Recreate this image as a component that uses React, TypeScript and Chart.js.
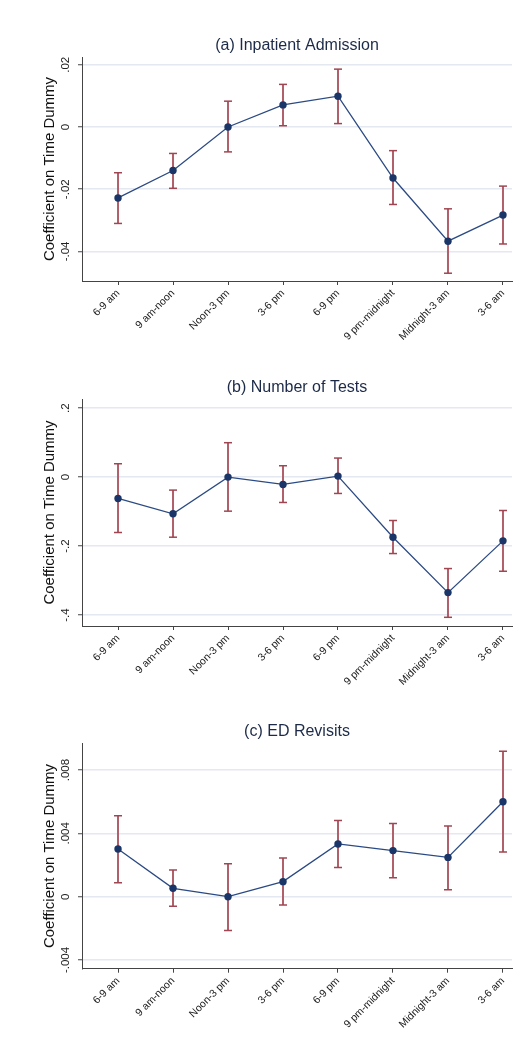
import React, { useEffect, useRef } from "react";
import { Chart, registerables } from "chart.js";

Chart.register(...registerables);

const timeSlots = ["6-9 am", "9 am-noon", "Noon-3 pm", "3-6 pm", "6-9 pm", "9 pm-midnight", "Midnight-3 am", "3-6 am"];

const admissionCoef = [-0.0228, -0.014, 0.0, 0.0071, 0.0099, -0.0164, -0.0367, -0.0283];
const admissionLow = [-0.031, -0.0197, -0.008, 0.0004, 0.0011, -0.0249, -0.047, -0.0376];
const admissionHigh = [-0.0147, -0.0085, 0.0083, 0.0137, 0.0186, -0.0076, -0.0263, -0.019];
const admissionTicks = [-0.04, -0.02, 0, 0.02];
const admissionTickLabels = ["-.04", "-.02", "0", ".02"];

const testsCoef = [-0.0619, -0.1064, 0.0, -0.0213, 0.0029, -0.1742, -0.3348, -0.1848];
const testsLow = [-0.1606, -0.1742, -0.0987, -0.0735, -0.0474, -0.2216, -0.4064, -0.2729];
const testsHigh = [0.0387, -0.0377, 0.0997, 0.0329, 0.0552, -0.1258, -0.2651, -0.0968];
const testsTicks = [-0.4, -0.2, 0, 0.2];
const testsTickLabels = ["-.4", "-.2", "0", ".2"];

const revisitCoef = [0.00301, 0.00053, 0.0, 0.00095, 0.00333, 0.00291, 0.00248, 0.006];
const revisitLow = [0.00088, -0.00061, -0.00213, -0.00053, 0.00185, 0.0012, 0.00044, 0.00282];
const revisitHigh = [0.00512, 0.00168, 0.00208, 0.00244, 0.00482, 0.00463, 0.00446, 0.00918];
const revisitTicks = [-0.004, 0, 0.004, 0.008];
const revisitTickLabels = ["-.004", "0", ".004", ".008"];

const FONT = "'Liberation Sans', Arial, Helvetica, sans-serif";

type PanelProps = {
  title: string;
  coef: number[];
  low: number[];
  high: number[];
  ticks: number[];
  tickLabels: string[];
  yMin: number;
  yMax: number;
  top: number;
  height: number;
  plotTop: number;
  plotBottom: number;
  titleCenter: number;
  tickPad: number;
};

function Panel(p: PanelProps) {
  const ref = useRef<HTMLCanvasElement | null>(null);
  useEffect(() => {
    if (!ref.current) return;
    const titleSize = 16;
    const titleLine = titleSize * 1.2;
    const titlePadTop = p.titleCenter - titleLine / 2;
    const titlePadBottom = p.plotTop - (titlePadTop + titleLine);
    const ciData: { x: number; y: number | null }[] = [];
    timeSlots.forEach((_, i) => {
      ciData.push({ x: i + 1, y: p.low[i] });
      ciData.push({ x: i + 1, y: p.high[i] });
      ciData.push({ x: i + 1, y: null });
    });
    const chart = new Chart(ref.current, {
      type: "line",
      data: {
        datasets: [
          {
            data: p.coef.map((v, i) => ({ x: i + 1, y: v })),
            borderColor: "#2b4a84",
            borderWidth: 1.3,
            pointRadius: 3.7,
            pointBackgroundColor: "#1a3668",
            pointBorderColor: "#1a3668",
            pointBorderWidth: 0,
            tension: 0,
          },
          {
            data: ciData,
            borderColor: "#b0606a",
            borderWidth: 2,
            spanGaps: false,
            pointStyle: "line",
            pointRadius: 4,
            pointBorderWidth: 1.5,
            pointBorderColor: "#a04652",
            pointBackgroundColor: "#a04652",
          },
        ],
      },
      options: {
        responsive: false,
        animation: false,
        events: [],
        layout: { padding: { left: 0, right: 12, top: 0, bottom: 0 } },
        plugins: {
          legend: { display: false },
          tooltip: { enabled: false },
          title: {
            display: true,
            text: p.title,
            fullSize: false,
            color: "#1c2a48",
            font: { family: FONT, size: titleSize, weight: "normal", lineHeight: 1.2 },
            padding: { top: titlePadTop, bottom: titlePadBottom },
          },
        },
        scales: {
          x: {
            type: "linear",
            min: 0.345,
            max: 8.164,
            afterBuildTicks: (scale: any) => {
              scale.ticks = timeSlots.map((_, i) => ({ value: i + 1 }));
            },
            afterFit: (scale: any) => {
              scale.height = p.height - p.plotBottom;
            },
            grid: {
              drawOnChartArea: false,
              drawTicks: true,
              tickLength: 4,
              tickColor: "#444",
              tickWidth: 1,
            },
            border: { display: true, color: "#444", width: 1 },
            ticks: {
              minRotation: 45,
              maxRotation: 45,
              autoSkip: false,
              padding: 2,
              color: "#222",
              font: { family: FONT, size: 10.5 },
              callback: (v: any) => timeSlots[Math.round(Number(v)) - 1] ?? "",
            },
          },
          y: {
            type: "linear",
            min: p.yMin,
            max: p.yMax,
            afterBuildTicks: (scale: any) => {
              scale.ticks = p.ticks.map((v) => ({ value: v }));
            },
            afterFit: (scale: any) => {
              scale.width = 82;
            },
            grid: {
              color: "#e3e8f1",
              lineWidth: 1.5,
              drawTicks: true,
              tickLength: 4,
              tickColor: "#444",
              tickWidth: 1,
            },
            border: { display: true, color: "#444", width: 1 },
            title: {
              display: true,
              text: "Coefficient on Time Dummy",
              color: "#111",
              font: { family: FONT, size: 15 },
              padding: { top: 41, bottom: 0 },
            },
            ticks: {
              minRotation: 90,
              maxRotation: 90,
              crossAlign: "center",
              padding: p.tickPad,
              color: "#222",
              font: { family: FONT, size: 11.5 },
              callback: (v: any) => {
                const idx = p.ticks.findIndex((t) => Math.abs(t - Number(v)) < 1e-9);
                return idx >= 0 ? p.tickLabels[idx] : "";
              },
            },
          },
        },
      } as any,
    });
    return () => chart.destroy();
  }, []);
  return (
    <div style={{ position: "absolute", left: 0, top: p.top, width: 524, height: p.height }}>
      <canvas ref={ref} width={524} height={p.height} style={{ display: "block" }} />
    </div>
  );
}

export default function App() {
  return (
    <div style={{ position: "absolute", left: 0, top: 0, width: 524, height: 1045, background: "#fff", overflow: "hidden" }}>
      <Panel
        title="(a) Inpatient Admission"
        coef={admissionCoef}
        low={admissionLow}
        high={admissionHigh}
        ticks={admissionTicks}
        tickLabels={admissionTickLabels}
        yMin={-0.0495}
        yMax={0.0225}
        top={0}
        height={345}
        plotTop={57}
        plotBottom={281}
        titleCenter={45.5}
        tickPad={2.1}
      />
      <Panel
        title="(b) Number of Tests"
        coef={testsCoef}
        low={testsLow}
        high={testsHigh}
        ticks={testsTicks}
        tickLabels={testsTickLabels}
        yMin={-0.4316}
        yMax={0.2264}
        top={345}
        height={340}
        plotTop={54}
        plotBottom={281}
        titleCenter={43}
        tickPad={5.3}
      />
      <Panel
        title="(c) ED Revisits"
        coef={revisitCoef}
        low={revisitLow}
        high={revisitHigh}
        ticks={revisitTicks}
        tickLabels={revisitTickLabels}
        yMin={-0.00455}
        yMax={0.00969}
        top={685}
        height={360}
        plotTop={58.3}
        plotBottom={283.7}
        titleCenter={46.7}
        tickPad={-1.1}
      />
    </div>
  );
}
